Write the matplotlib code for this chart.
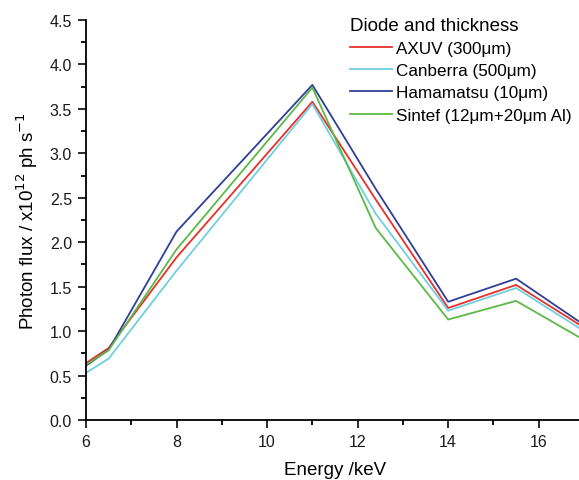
import matplotlib
matplotlib.use("Agg")
import matplotlib.pyplot as plt
from matplotlib.ticker import MultipleLocator

plt.rcParams["font.family"] = ["Liberation Sans", "DejaVu Sans"]

energy = [6, 6.5, 8, 11, 12.4, 14, 15.5, 17]
axuv = [0.64, 0.81, 1.83, 3.58, 2.48, 1.26, 1.52, 1.04]
canberra = [0.53, 0.69, 1.68, 3.555, 2.32, 1.23, 1.485, 1.00]
hamamatsu = [0.61, 0.79, 2.12, 3.77, 2.60, 1.33, 1.59, 1.07]
sintef = [0.62, 0.785, 1.92, 3.74, 2.16, 1.13, 1.34, 0.90]

labels = ["AXUV (300\u03bcm)", "Canberra (500\u03bcm)",
          "Hamamatsu (10\u03bcm)", "Sintef (12\u03bcm+20\u03bcm Al)"]
colors = ["#e8302a", "#6fcfe0", "#2f3f98", "#5cb947"]

fig = plt.figure(figsize=(5.79, 4.81), dpi=100)
# axes run past the right edge of the figure (as in the cropped original)
ax = fig.add_axes([86 / 579, 60 / 481, 498 / 579, 400 / 481])

for y, lab, c in zip([axuv, canberra, hamamatsu, sintef], labels, colors):
    ax.plot(energy, y, color=c, lw=1.3, label=lab)

ax.set_xlim(6, 17)
ax.set_ylim(0, 4.5)
ax.xaxis.set_major_locator(MultipleLocator(2))
ax.xaxis.set_minor_locator(MultipleLocator(1))
ax.yaxis.set_major_locator(MultipleLocator(0.5))
ax.yaxis.set_minor_locator(MultipleLocator(0.25))
ax.yaxis.set_major_formatter(plt.FormatStrFormatter("%.1f"))
ax.tick_params(which="major", direction="out", length=6, width=1.3,
               labelsize=11.5, colors="#1a1a1a", pad=4)
ax.tick_params(which="minor", direction="out", length=3.5, width=1.3)
ax.spines["top"].set_visible(False)
ax.spines["right"].set_visible(False)
ax.spines["left"].set_linewidth(1.3)
ax.spines["bottom"].set_linewidth(1.3)

ax.set_xlabel("Energy /keV", fontsize=13.5, labelpad=9)
ax.set_ylabel("Photon flux / x10$^{12}$ ph s$^{-1}$", fontsize=13.5, labelpad=7)

leg = ax.legend(loc="upper left", bbox_to_anchor=(343 / 579, 1 - 11 / 481),
                bbox_transform=fig.transFigure, frameon=False,
                title="Diode and thickness", title_fontsize=13.5, fontsize=12.3,
                alignment="left", handlelength=2.45, handletextpad=0.25,
                labelspacing=0.42, borderaxespad=0)

fig.savefig("out.png", dpi=100)
